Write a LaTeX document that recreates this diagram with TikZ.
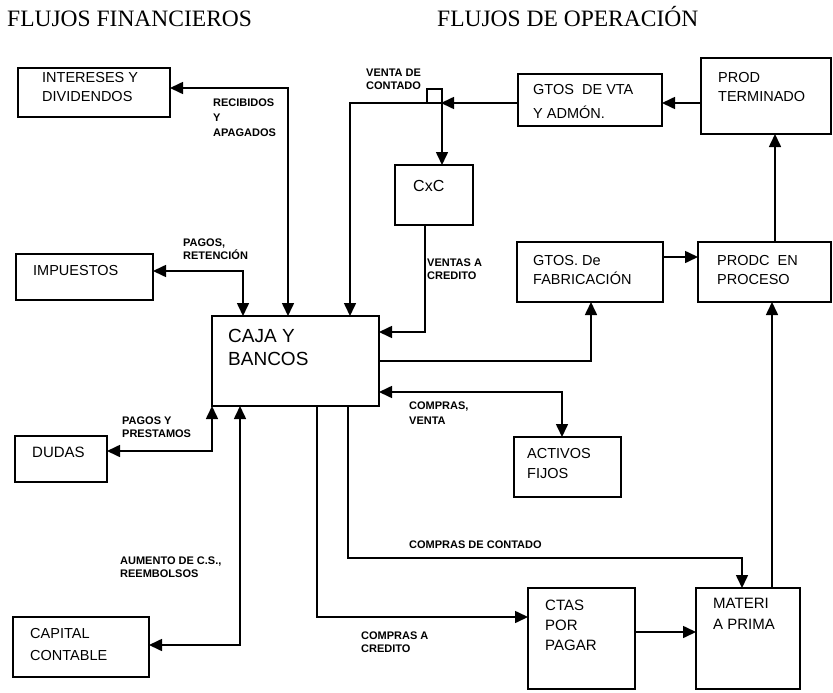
\documentclass[tikz,border=0pt]{standalone}
\usepackage{fontspec}
\setmainfont{Liberation Serif}
\setsansfont{Liberation Sans}
\usepackage{tikz}
\usetikzlibrary{arrows.meta}

\begin{document}
\begin{tikzpicture}[
    x=1pt, y=-1pt,
    >={Triangle[length=13pt,width=12pt]},
    bloque/.style={draw, line width=1.8pt, anchor=north west, inner sep=0pt, outer sep=0pt},
    texto/.style={anchor=north west, inner sep=0pt, align=left, font=\sffamily\fontsize{14.5}{19}\selectfont},
    rotulo/.style={anchor=north west, inner sep=0pt, align=left, font=\sffamily\bfseries\fontsize{11}{13}\selectfont},
    titulo/.style={anchor=base west, inner sep=0pt, font=\rmfamily\fontsize{23.5}{28}\selectfont},
    flujo/.style={line width=1.6pt},
]
    \useasboundingbox (0,0) rectangle (833,693);

    \node[titulo] (tfin) at (7,27) {FLUJOS FINANCIEROS};
    \node[titulo] (top) at (437,27) {FLUJOS DE OPERACIÓN};

    % cuentas
    \node[bloque, minimum width=152, minimum height=49] (inter) at (18,68) {};
    \node[bloque, minimum width=137, minimum height=46] (impu) at (16,254) {};
    \node[bloque, minimum width=167, minimum height=90] (bancos) at (212,316) {};
    \node[bloque, minimum width=92, minimum height=46] (dudas) at (15,436) {};
    \node[bloque, minimum width=136, minimum height=60] (capital) at (13,617) {};
    \node[bloque, minimum width=78, minimum height=60] (cxc) at (395,165) {};
    \node[bloque, minimum width=144, minimum height=52] (gvta) at (518,74) {};
    \node[bloque, minimum width=130, minimum height=76] (prodt) at (701,58) {};
    \node[bloque, minimum width=146, minimum height=60] (gfab) at (517,242) {};
    \node[bloque, minimum width=133, minimum height=60] (prodc) at (698,242) {};
    \node[bloque, minimum width=107, minimum height=60] (activos) at (514,437) {};
    \node[bloque, minimum width=107, minimum height=101] (ctas) at (528,588) {};
    \node[bloque, minimum width=104, minimum height=101] (materi) at (696,588) {};

    \node[texto] (inter-t) at (42,72) {INTERESES Y\\DIVIDENDOS};
    \node[texto] (impu-t) at (33,265) {IMPUESTOS};
    \node[texto, font=\sffamily\fontsize{19}{23}\selectfont] (bancos-t) at (228,329) {CAJA Y\\BANCOS};
    \node[texto, font=\sffamily\fontsize{15}{19}\selectfont] (dudas-t) at (32,447) {DUDAS};
    \node[texto, font=\sffamily\fontsize{14.5}{22}\selectfont] (capital-t) at (30,628) {CAPITAL\\CONTABLE};
    \node[texto, font=\sffamily\fontsize{16}{19}\selectfont] (cxc-t) at (413,180) {CxC};
    \node[texto, font=\sffamily\fontsize{14.5}{24}\selectfont] (gvta-t) at (533,84) {GTOS~~DE VTA\\Y ADMÓN.};
    \node[texto] (prodt-t) at (718,72) {PROD\\TERMINADO};
    \node[texto] (gfab-t) at (533,255) {GTOS. De\\FABRICACIÓN};
    \node[texto] (prodc-t) at (717,255) {PRODC~~EN\\PROCESO};
    \node[texto, font=\sffamily\fontsize{14.5}{20}\selectfont] (activos-t) at (527,448) {ACTIVOS\\FIJOS};
    \node[texto, font=\sffamily\fontsize{15}{20}\selectfont] (ctas-t) at (545,600) {CTAS\\POR\\PAGAR};
    \node[texto, font=\sffamily\fontsize{15}{21}\selectfont] (materi-t) at (713,598) {MATERI\\A PRIMA};

    % flujos financieros
    \draw[flujo, <->] (inter.east |- 0,88) -| (bancos.north -| 288,0);
    \draw[flujo, <->] (impu.east |- 0,271) -| (bancos.north -| 243,0);
    \draw[flujo, <->] (dudas.east |- 0,451) -| (bancos.south west);
    \draw[flujo, <->] (capital.east |- 0,645) -| (bancos.south -| 240,0);

    % flujos de operacion
    \coordinate (venta) at (441,103);
    \draw[flujo, ->] (gvta.west |- venta) -- (venta);
    \draw[flujo, ->] (venta) -- (350,103) -- (bancos.north -| 350,0);
    \draw[flujo, ->] (427,103) |- (442,89) -- (cxc.north -| 442,0);
    \draw[flujo, ->] (cxc.south -| 425,0) |- (bancos.east |- 0,332);
    \draw[flujo, ->] (bancos.east |- 0,361) -| (gfab.south -| 591,0);
    \draw[flujo, <->] (bancos.east |- 0,392) -| (activos.north -| 562,0);
    \draw[flujo, ->] (gfab.east |- 0,257) -- (prodc.west |- 0,257);
    \draw[flujo, ->] (prodc.north -| 775,0) -- (prodt.south -| 775,0);
    \draw[flujo, ->] (prodt.west |- 0,103) -- (gvta.east |- 0,103);
    \draw[flujo, ->] (materi.north -| 772,0) -- (prodc.south -| 772,0);
    \draw[flujo, ->] (ctas.east |- 0,632) -- (materi.west |- 0,632);
    \draw[flujo, ->] (bancos.south -| 317,0) |- (ctas.west |- 0,617);
    \draw[flujo, ->] (bancos.south -| 348,0) |- (742,558) -- (materi.north -| 742,0);

    \node[rotulo] (l-recib) at (213,99) {RECIBIDOS\\[2pt]Y\\[2pt]APAGADOS};
    \node[rotulo] (l-venta) at (366,69) {VENTA DE\\CONTADO};
    \node[rotulo] (l-pagos) at (183,239) {PAGOS,\\RETENCIÓN};
    \node[rotulo] (l-vcred) at (427,259) {VENTAS A\\CREDITO};
    \node[rotulo] (l-prest) at (122,417) {PAGOS Y\\PRESTAMOS};
    \node[rotulo] (l-compv) at (409,402) {COMPRAS,\\[2pt]VENTA};
    \node[rotulo] (l-aum) at (120,557) {AUMENTO DE C.S.,\\REEMBOLSOS};
    \node[rotulo] (l-ccont) at (409,541) {COMPRAS DE CONTADO};
    \node[rotulo] (l-ccred) at (361,632) {COMPRAS A\\CREDITO};
\end{tikzpicture}
\end{document}
